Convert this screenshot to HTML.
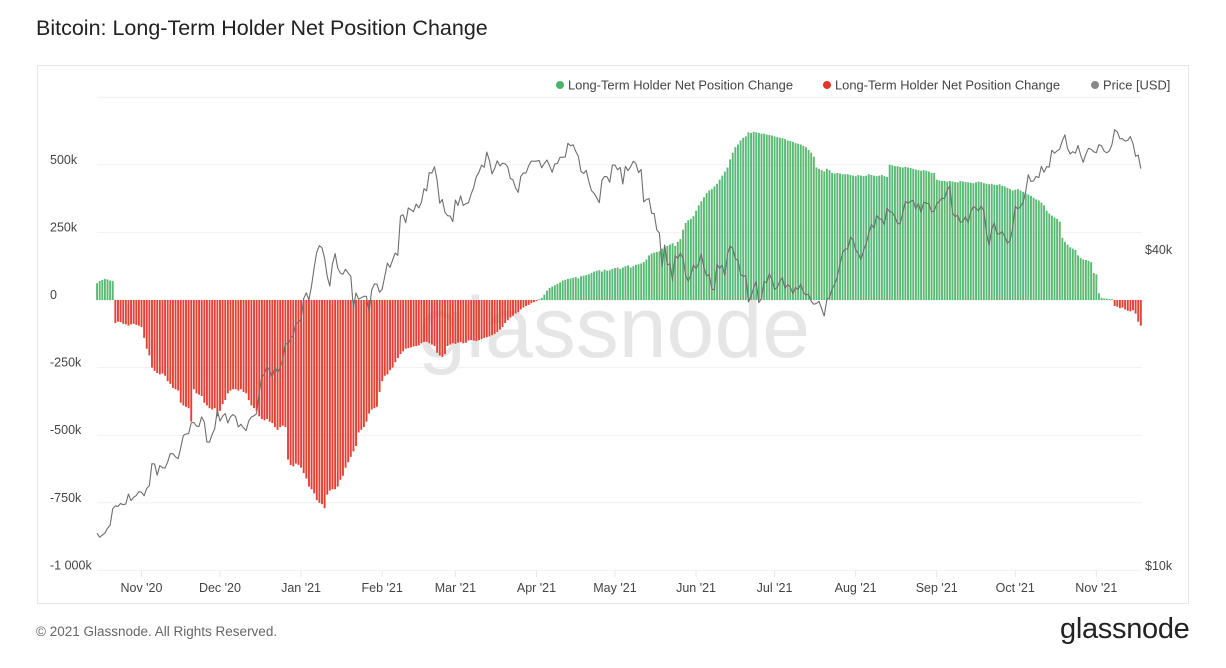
<!DOCTYPE html>
<html><head><meta charset="utf-8"><style>
body{margin:0;background:#fff;font-family:"Liberation Sans",sans-serif;}
#wrap{position:relative;width:1226px;height:668px;overflow:hidden;background:#fff;}
.t{position:absolute;white-space:nowrap;}
</style></head><body>
<div id="wrap">
<div class="t" style="left:36px;top:16px;font-size:21.5px;color:#222;">Bitcoin: Long-Term Holder Net Position Change</div>
<div style="position:absolute;left:37px;top:65px;width:1150px;height:537px;border:1px solid #e6e6e6;"></div>
<svg id="chart" width="1226" height="668" style="position:absolute;left:0;top:0;"></svg>
<div class="t" style="left:36px;top:624px;font-size:13.5px;color:#666;">© 2021 Glassnode. All Rights Reserved.</div>
<div class="t" style="left:1060px;top:613px;font-size:29px;color:#222;letter-spacing:-0.3px;">glassnode</div>
</div>
<script>
const dailyNetChange = [62,70,74,78,76,72,70,
-85,-80,-82,-88,-90,-95,-90,-88,-92,-95,-100,
-140,-180,-205,
-250,-262,-270,-275,-272,-280,-300,
-310,-325,-330,-335,-380,-390,-395,-400,
-450,
-330,-345,-350,-355,
-380,-390,-400,-405,-400,-430,-410,
-385,-370,-345,-335,-330,-330,-335,-330,-340,-345,
-370,-390,-400,-410,
-430,-440,-445,-440,-450,-455,
-470,-480,-470,-465,-470,
-590,-610,-615,-605,-610,-620,-640,
-660,-690,-700,-715,-740,-750,-755,
-770,
-720,-705,-700,-700,-690,
-665,-650,-620,-600,-580,-560,-540,
-490,-480,-470,-450,-420,-405,-400,-395,
-340,-300,-280,-275,-260,-250,-230,-215,
-200,-190,-180,-178,-175,-172,-170,-168,-160,-155,-155,-160,-165,-170,
-195,-205,-210,-200,
-170,-165,-160,-162,-158,-155,-160,-158,-150,-148,-150,-152,-148,-145,-140,-138,-135,
-130,-125,-118,-110,-100,
-85,-75,-65,-58,-50,-45,-35,-28,
-22,-18,-12,-8,-4,3,8,
20,35,45,50,55,60,65,
72,75,78,80,82,85,80,88,90,92,95,
100,105,108,110,105,112,108,110,115,118,120,
115,120,125,128,120,125,130,132,135,140,
150,165,172,175,178,180,
190,195,200,205,210,200,215,225,
260,285,295,300,310,330,
350,365,380,395,405,410,
420,430,445,460,475,490,
520,545,565,575,590,600,605,
620,618,622,620,618,615,615,612,610,608,605,
602,600,598,595,590,588,585,580,578,575,570,565,
555,545,530,
490,485,480,475,485,480,470,468,470,468,465,465,
465,462,460,458,462,460,458,460,465,462,460,458,460,462,458,455,
500,498,495,495,492,490,492,490,488,485,482,480,478,480,478,475,470,470,
445,442,440,440,438,440,438,436,435,440,438,436,435,434,432,435,438,436,432,430,428,430,426,425,428,422,420,
415,410,405,408,410,405,400,
395,390,385,378,372,368,360,350,
330,320,312,305,300,290,
230,215,205,195,190,185,
165,155,150,148,145,140,
100,95,25,
8,6,5,4,3,
-22,-25,-30,-28,-35,-40,-42,-38,-50,-80,-95];
const priceK = [11.5,11.3,11.4,11.5,11.75,11.9,12.8,12.97,12.93,13.1,13.03,13.07,13.65,13.27,13.46,13.56,13.8,
13.76,13.55,14.0,14.15,15.6,15.58,14.83,15.48,15.33,15.3,15.7,16.3,16.3,16.07,15.95,16.72,17.65,17.77,17.8,18.65,18.7,18.4,18.37,19.15,18.72,17.15,17.14,17.72,18.18,19.7,
18.8,19.2,19.44,18.65,19.15,19.36,19.17,18.32,18.55,18.26,18.04,18.8,19.14,19.25,19.43,21.31,22.8,23.14,23.87,23.48,22.75,23.82,23.25,23.73,24.7,26.5,26.3,27.08,27.36,28.84,29.0,
29.4,32.2,33.0,32.0,34.0,36.8,39.4,40.6,40.2,38.4,35.5,34.0,37.4,39.2,36.8,36.0,35.8,36.6,36.0,35.5,30.8,33.0,32.1,32.3,32.5,32.5,30.4,33.4,34.3,34.3,33.1,
33.5,35.5,37.6,36.9,38.1,39.3,38.9,46.2,46.5,44.9,47.9,47.5,47.1,48.7,47.9,49.1,52.1,51.6,55.9,55.8,57.4,54.1,48.9,49.7,47.0,46.3,46.2,45.1,
49.6,48.4,50.5,48.4,48.8,49.0,50.9,52.4,54.9,56.0,57.8,57.2,61.2,59.0,55.6,56.9,58.9,57.6,58.3,58.1,57.4,54.5,54.2,52.3,51.3,55.0,55.8,55.8,57.6,58.8,58.8,
58.8,59.0,57.1,58.2,59.1,57.6,56.0,58.1,58.2,59.8,59.8,59.9,63.6,62.9,63.2,61.4,60.1,56.2,55.7,56.5,53.8,51.7,51.1,50.1,49.0,54.0,55.0,54.9,53.6,57.8,
57.8,56.6,57.2,53.2,57.5,56.4,57.4,58.8,58.2,55.9,56.7,49.2,49.7,49.9,46.8,46.7,43.5,42.9,37.0,40.7,37.3,37.5,34.8,38.8,38.4,39.3,38.4,35.7,34.7,35.7,37.3,
36.7,37.6,39.2,36.9,35.5,35.8,33.6,33.4,37.4,36.7,37.3,35.6,39.1,40.5,40.1,38.3,38.1,35.8,35.5,35.6,31.7,32.5,33.7,34.7,31.6,32.2,34.7,34.5,35.9,35.0,
33.5,33.8,34.7,35.3,33.7,34.2,33.9,32.9,33.8,33.5,34.3,33.1,32.7,32.8,31.8,31.4,31.5,31.8,30.8,29.8,32.1,32.3,33.6,34.3,35.4,37.3,39.4,40.0,40.0,42.2,41.6,
39.9,39.2,38.2,39.7,40.9,42.8,44.6,43.8,46.4,45.6,45.6,44.4,47.8,47.1,47.0,46.0,44.7,44.7,46.8,49.3,48.9,49.3,49.5,47.7,48.9,47.0,49.1,48.9,48.8,47.1,47.2,
48.8,49.3,50.0,49.9,51.8,52.7,46.9,46.1,46.4,44.9,45.2,46.1,44.9,47.1,48.2,47.8,47.3,48.3,47.3,43.0,40.7,43.6,44.9,42.8,42.7,43.2,42.2,41.0,41.5,43.8,
48.2,47.7,48.2,49.1,51.5,55.4,53.8,53.9,55.0,54.7,57.5,56.0,57.4,57.3,61.7,60.9,61.5,62.0,64.3,66.0,62.2,60.7,61.3,60.9,63.0,60.4,58.5,60.6,62.2,61.9,61.3,
61.0,63.2,62.9,61.4,61.0,61.5,63.3,67.5,66.9,64.9,64.9,64.2,64.4,65.5,63.6,60.1,60.4,56.9];
const leftTicks = [750,500,250,0,-250,-500,-750,-1000];
const leftTickLabels = ["","500k","250k","0","-250k","-500k","-750k","-1 000k"];
const rightTicks = [40,10];
const rightTickLabels = ["$40k","$10k"];
const monthLabels = ["Nov '20","Dec '20","Jan '21","Feb '21","Mar '21","Apr '21","May '21","Jun '21","Jul '21","Aug '21","Sep '21","Oct '21","Nov '21"];
const monthDayIndex = [17,47,78,109,137,168,198,229,259,290,321,351,382];

const NS="http://www.w3.org/2000/svg";
const svg=document.getElementById('chart');
const X0=97, DX=2.616, Y0=300, KY=0.2704;
const xs=i=>X0+i*DX;
const yv=v=>Y0-v*KY;
const yp=p=>249-525*Math.log10(p/40);
function mk(tag,attrs,parent){const e=document.createElementNS(NS,tag);for(const k in attrs)e.setAttribute(k,attrs[k]);(parent||svg).appendChild(e);return e;}

leftTicks.forEach((v,k)=>{
  const g=mk('line',{x1:97,x2:1142,y1:yv(v),y2:yv(v),stroke:'#f0f0f0','stroke-width':1});
  
  
  if(leftTickLabels[k]){
    const t=mk('text',{x:50,y:yv(v)-1,'font-size':12.5,fill:'#444','font-family':'Liberation Sans, sans-serif'});
    t.textContent=leftTickLabels[k];
    
    
  }
});
rightTicks.forEach((p,k)=>{
  const t=mk('text',{x:1145,y:yp(p)+5,'font-size':12.5,fill:'#444','font-family':'Liberation Sans, sans-serif'});
  t.textContent=rightTickLabels[k];
  
  
});
monthLabels.forEach((m,k)=>{
  const x=xs(monthDayIndex[k]);
  const tk=mk('line',{x1:x,x2:x,y1:571,y2:577,stroke:'#e6e6e6'});
  
  
  const t=mk('text',{x:x,y:592,'text-anchor':'middle','font-size':12.5,fill:'#444','font-family':'Liberation Sans, sans-serif'});
  t.textContent=m;
  
  
});
const wm=mk('text',{x:614,y:357,'text-anchor':'middle','font-size':86,fill:'#e6e6e6','font-family':'Liberation Sans, sans-serif'});
wm.textContent='glassnode';



dailyNetChange.forEach((v,i)=>{
  const y=yv(v), h=Math.abs(y-Y0);
  const r=mk('rect',{x:xs(i)-0.9,y:Math.min(y,Y0),width:1.9,height:Math.max(h,0.5),fill:v>=0?'#52b56f':'#e3362a',opacity:0.95});
  
  
});
const pts=priceK.map((p,i)=>xs(i).toFixed(1)+','+yp(p).toFixed(1)).join(' ');
const pl=mk('polyline',{points:pts,fill:'none',stroke:'#6e6e6e','stroke-width':1.1,'stroke-linejoin':'round'});



const legend=[{c:'#4cb36a',t:'Long-Term Holder Net Position Change',x:560,n:'legend-entry-positive'},{c:'#e3362a',t:'Long-Term Holder Net Position Change',x:827,n:'legend-entry-negative'},{c:'#888',t:'Price [USD]',x:1095,n:'legend-entry-price'}];
legend.forEach(l=>{
  const g=mk('g',{});
  
  
  mk('circle',{cx:l.x,cy:85,r:4,fill:l.c},g);
  const t=mk('text',{x:l.x+8,y:89.5,'font-size':12.9,fill:'#444','font-family':'Liberation Sans, sans-serif'},g);
  t.textContent=l.t;
});
</script>
</body></html>
